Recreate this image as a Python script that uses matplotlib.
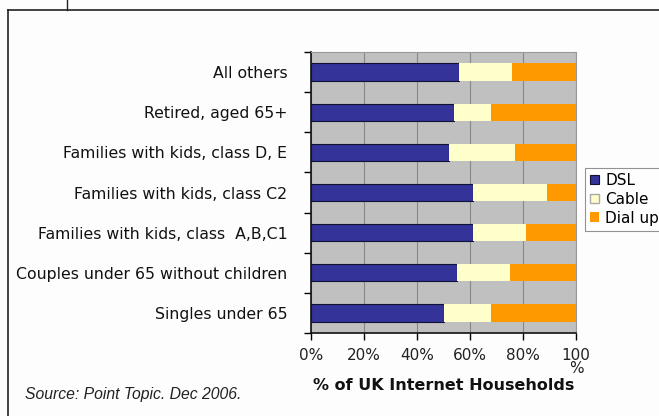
import numpy as np
import matplotlib.pyplot as plt
from matplotlib.lines import Line2D

categories = ["Singles under 65", "Couples under 65 without children",
              "Families with kids, class  A,B,C1", "Families with kids, class C2",
              "Families with kids, class D, E", "Retired, aged 65+", "All others"]
dsl = [50, 55, 61, 61, 52, 54, 56]
cable = [18, 20, 20, 28, 25, 14, 20]
dialup = [32, 25, 19, 11, 23, 32, 24]
xticks = [0, 20, 40, 60, 80, 100]
xticklabels = ["0%", "20%", "40%", "60%", "80%", "100\n%"]

fig = plt.figure(figsize=(6.59, 4.16), dpi=100)
fig.patch.set_facecolor("#fdfdfd")
W, H = 659, 416
ax = fig.add_axes([311 / W, 1 - 333 / H, 265 / W, 281 / H])
ax.set_facecolor("#c0c0c0")

y = np.arange(len(categories))
left2 = np.array(dsl)
left3 = left2 + np.array(cable)
ax.barh(y, dsl, height=0.43, color="#333399", edgecolor="#111133", linewidth=0.8, label="DSL", zorder=3)
ax.barh(y, cable, left=left2, height=0.43, color="#ffffcc", edgecolor="none", label="Cable", zorder=3)
ax.barh(y, dialup, left=left3, height=0.43, color="#ff9900", edgecolor="none", label="Dial up", zorder=3)

ax.set_xlim(0, 100)
ax.set_ylim(-0.5, len(categories) - 0.5)
ax.set_xticks(xticks)
ax.set_xticklabels(xticklabels, fontsize=11, color="#222222", va="top")
ax.get_xticklabels()[-1].set_linespacing(0.8)
ax.set_yticks(y)
ax.set_yticklabels(categories, fontsize=11.3, color="#111111")
ax.tick_params(axis="y", length=0, pad=17)
ax.set_yticks(np.arange(-0.5, len(categories), 1), minor=True)
ax.tick_params(axis="y", which="minor", length=5, direction="out", width=1)
ax.tick_params(axis="x", length=5, direction="out", width=1, pad=6)
ax.xaxis.grid(True, color="#888888", linewidth=0.8, zorder=0)
ax.set_axisbelow(True)
for s in ["top", "right"]:
    ax.spines[s].set_color("#999999")
    ax.spines[s].set_linewidth(0.8)
for s in ["left", "bottom"]:
    ax.spines[s].set_color("#111111")
    ax.spines[s].set_linewidth(1.2)

ax.set_xlabel("% of UK Internet Households", fontsize=11.5, fontweight="bold",
              color="#111111", labelpad=0)
ax.xaxis.set_label_coords(0.5, -0.16)

handles, labels = ax.get_legend_handles_labels()
leg = fig.legend(handles, labels, loc="upper left", bbox_to_anchor=(577 / W, 1 - 160 / H),
                 fontsize=11, frameon=True, handlelength=0.6, handleheight=0.6,
                 handletextpad=0.4, borderpad=0.35, labelspacing=0.25, fancybox=False)
leg.get_frame().set_edgecolor("#777777")
leg.get_frame().set_linewidth(0.8)
leg.legend_handles[0].set_edgecolor("#111133")
leg.legend_handles[1].set_edgecolor("#aaaaaa")

fig.text(25 / W, 1 - 395 / H, "Source: Point Topic. Dec 2006.", fontsize=11.3,
         style="italic", family="Liberation Sans", color="#222222", va="center")

# frame lines around the picture
fig.add_artist(Line2D([8 / W, 1], [1 - 10 / H, 1 - 10 / H], color="#222222", lw=1.2))
fig.add_artist(Line2D([8 / W, 8 / W], [0, 1 - 10 / H], color="#222222", lw=1.2))
fig.add_artist(Line2D([67 / W, 67 / W], [1 - 10 / H, 1], color="#222222", lw=1.0))

fig.savefig("out.png", dpi=100, facecolor=fig.get_facecolor())
